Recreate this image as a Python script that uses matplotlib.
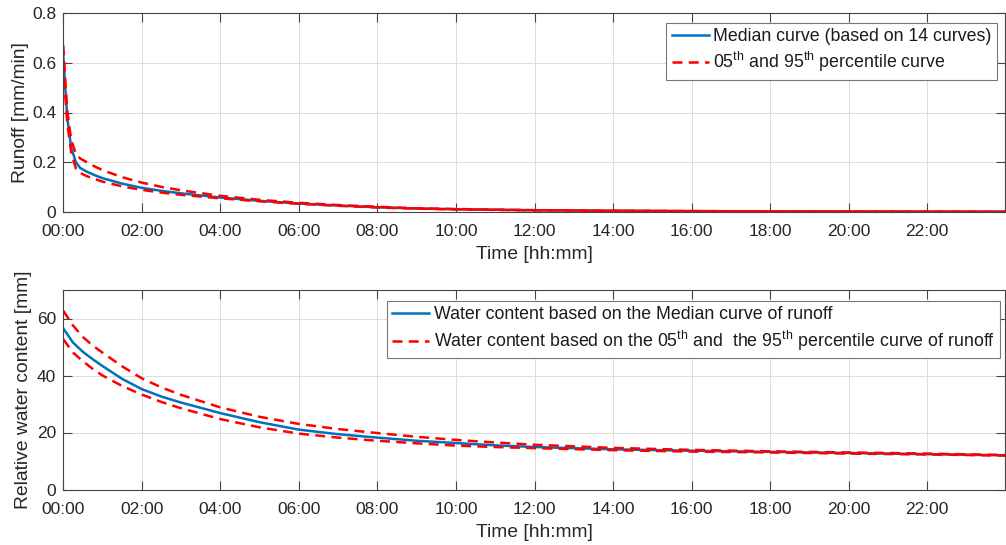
import matplotlib
matplotlib.use("Agg")
import matplotlib.pyplot as plt
from matplotlib.ticker import FixedLocator, FuncFormatter

plt.rcParams['font.family'] = ['Liberation Sans', 'DejaVu Sans']
plt.rcParams['mathtext.fontset'] = 'custom'
plt.rcParams['mathtext.rm'] = 'Liberation Sans'
plt.rcParams['mathtext.it'] = 'Liberation Sans'

# ---------------- data ----------------
t_runoff = [0, 0.05, 0.1, 0.2, 0.32, 0.43, 0.6, 0.8, 1.0, 1.5, 2, 2.5, 3, 4, 5, 6, 7, 8,
            9, 10, 11, 12, 14, 16, 18, 20, 22, 23.98]
runoff_median = [0.63, 0.50, 0.38, 0.26, 0.20, 0.177, 0.162, 0.148, 0.136, 0.114, 0.097,
                 0.085, 0.075, 0.058, 0.045, 0.034, 0.026, 0.019, 0.014, 0.011, 0.009,
                 0.007, 0.005, 0.0035, 0.0025, 0.002, 0.0015, 0.0012]
runoff_p95 = [0.67, 0.53, 0.41, 0.29, 0.235, 0.215, 0.20, 0.183, 0.168, 0.14, 0.118,
              0.101, 0.087, 0.065, 0.049, 0.037, 0.028, 0.021, 0.015, 0.012, 0.0095,
              0.0075, 0.0053, 0.0037, 0.0027, 0.0021, 0.0016, 0.0013]
runoff_p05 = [0.60, 0.47, 0.36, 0.24, 0.175, 0.157, 0.144, 0.133, 0.122, 0.103, 0.089,
              0.078, 0.069, 0.055, 0.043, 0.033, 0.025, 0.018, 0.0135, 0.0105, 0.0085,
              0.0067, 0.0048, 0.0034, 0.0024, 0.0019, 0.0014, 0.0011]

t_water = [0, 0.25, 0.5, 0.75, 1, 1.5, 2, 2.5, 3, 4, 5, 6, 7, 8, 9, 10, 11, 12,
           14, 16, 18, 20, 22, 23.98]
water_median = [56.5, 51.5, 48.3, 45.7, 43.3, 38.8, 35.2, 32.6, 30.5, 26.8, 23.6, 21.0,
                19.4, 18.2, 17.1, 16.3, 15.5, 14.9, 14.1, 13.6, 13.2, 12.8, 12.4, 12.0]
water_p95 = [62.7, 57.5, 53.5, 50.5, 48.0, 43.2, 39.0, 35.8, 33.2, 28.8, 25.5, 23.0,
             21.2, 19.8, 18.5, 17.4, 16.5, 15.7, 14.6, 13.9, 13.4, 13.0, 12.6, 12.1]
water_p05 = [52.7, 48.0, 45.0, 42.3, 40.0, 36.3, 33.3, 30.7, 28.5, 24.7, 21.8, 19.6,
             18.2, 17.1, 16.2, 15.4, 14.9, 14.5, 13.8, 13.3, 13.0, 12.6, 12.3, 11.9]

x_ticks = [0, 2, 4, 6, 8, 10, 12, 14, 16, 18, 20, 22]
x_max = 23.98
runoff_ticks = [0, 0.2, 0.4, 0.6, 0.8]
water_ticks = [0, 20, 40, 60]

label_top_median = "Median curve (based on 14 curves)"
label_top_pct = r"05$^{\mathrm{th}}$ and 95$^{\mathrm{th}}$ percentile curve"
label_bot_median = "Water content based on the Median curve of runoff"
label_bot_pct = (r"Water content based on the 05$^{\mathrm{th}}$ and  the "
                 r"95$^{\mathrm{th}}$ percentile curve of runoff")

# ---------------- style ----------------
BLUE = '#0072BD'
RED = '#FF0000'
SPINE = '#444444'
TEXT = '#262626'
TICK_FS = 12.5
LABEL_FS = 13.9
LEG_FS = 12.8
DASH = (0, (4, 2.5))
LW = 1.8

W, H = 1006, 545
fig = plt.figure(figsize=(W / 100, H / 100), dpi=100)

def axes_px(left, top, right, bottom):
    return fig.add_axes([left / W, 1 - bottom / H, (right - left) / W, (bottom - top) / H])

ax1 = axes_px(63.3, 13, 1005, 212)
ax2 = axes_px(63.3, 290, 1005, 489.5)

def hhmm(v, pos):
    return "%02d:00" % int(round(v))

def style(ax):
    ax.set_xlim(0, x_max)
    ax.xaxis.set_major_locator(FixedLocator(x_ticks))
    ax.xaxis.set_major_formatter(FuncFormatter(hhmm))
    ax.grid(True, color='#dcdcdc', linewidth=0.7)
    ax.set_axisbelow(True)
    for s in ax.spines.values():
        s.set_color(SPINE)
        s.set_linewidth(0.8)
    ax.tick_params(direction='in', length=6.5, width=0.8, color=SPINE,
                   labelsize=TICK_FS, labelcolor=TEXT, top=True, right=True)
    ax.tick_params(axis='x', pad=9)
    ax.tick_params(axis='y', pad=5)
    ax.set_xlabel("Time [hh:mm]", fontsize=LABEL_FS, color=TEXT, labelpad=5)

style(ax1)
ax1.set_ylim(0, 0.8)
ax1.yaxis.set_major_locator(FixedLocator(runoff_ticks))
ax1.yaxis.set_major_formatter(FuncFormatter(lambda v, p: "0" if v == 0 else "%g" % v))
ax1.plot(t_runoff, runoff_median, color=BLUE, lw=LW, label=label_top_median)
ax1.plot(t_runoff, runoff_p95, color=RED, lw=LW, ls=DASH, label=label_top_pct)
ax1.plot(t_runoff, runoff_p05, color=RED, lw=LW, ls=DASH)
ax1.set_ylabel("Runoff [mm/min]", fontsize=LABEL_FS, color=TEXT, labelpad=2)

style(ax2)
ax2.set_ylim(0, 70)
ax2.yaxis.set_major_locator(FixedLocator(water_ticks))
ax2.plot(t_water, water_median, color=BLUE, lw=LW, label=label_bot_median)
ax2.plot(t_water, water_p95, color=RED, lw=LW, ls=DASH, label=label_bot_pct)
ax2.plot(t_water, water_p05, color=RED, lw=LW, ls=DASH)
ax2.set_ylabel("Relative water content [mm]", fontsize=LABEL_FS, color=TEXT, labelpad=4)

def legend(ax, anchor):
    leg = ax.legend(loc='upper right', bbox_to_anchor=anchor, borderaxespad=0,
                    fontsize=LEG_FS, frameon=True, fancybox=False, framealpha=1,
                    edgecolor='#777777', handlelength=2.1, handletextpad=0.25,
                    borderpad=0.3, labelspacing=0.3)
    leg.get_frame().set_linewidth(0.8)
    for t in leg.get_texts():
        t.set_color('#1a1a1a')
    return leg

legend(ax1, ((997 - 63.3) / (1005 - 63.3), (212 - 22.7) / 199))
legend(ax2, ((1000 - 63.3) / (1005 - 63.3), (489.5 - 301) / 199.5))

fig.savefig("out.png", dpi=100)
